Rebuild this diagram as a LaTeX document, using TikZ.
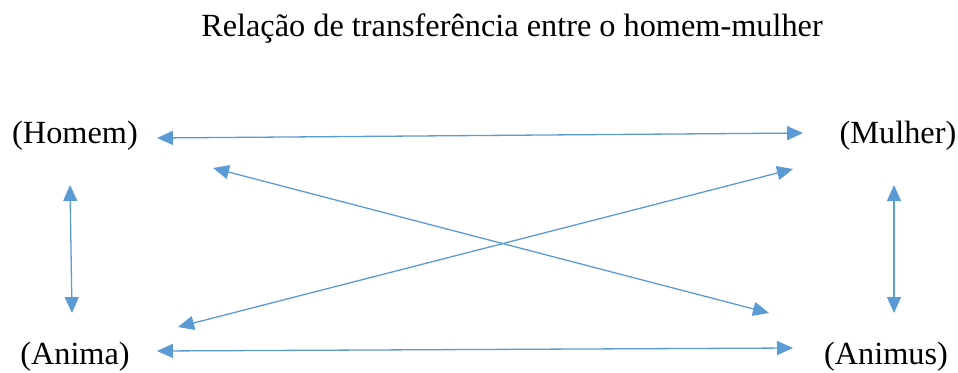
\documentclass[tikz,border=0pt]{standalone}
\usepackage{fontspec}
\setmainfont{Liberation Serif}
\usetikzlibrary{arrows.meta}
\definecolor{linkblue}{HTML}{5B9BD5}
\tikzset{
  label/.style={inner sep=0pt, anchor=base, font=\fontsize{32.3}{38}\selectfont},
  link/.style={draw=linkblue, line width=1.3pt,
    {Triangle[length=16pt,width=14pt]}-{Triangle[length=16pt,width=14pt]}}
}

\begin{document}
\begin{tikzpicture}[x=1pt, y=-1pt]
\useasboundingbox (0,0) rectangle (958,372);
\node[label] (title) at (512,36) {Relação de transferência entre o homem-mulher};
\node[label] (homem) at (75,143) {(Homem)};
\node[label] (mulher) at (898,143) {(Mulher)};
\node[label] (anima) at (75,364) {(Anima)};
\node[label] (animus) at (886,364) {(Animus)};
\draw[link] ([shift={(82,-5)}]homem.base) -- ([shift={(-95,-10)}]mulher.base);
\draw[link] ([shift={(138,25)}]homem.base) -- ([shift={(-117,-51)}]animus.base);
\draw[link] ([shift={(103,-37)}]anima.base) -- ([shift={(-105,26)}]mulher.base);
\draw[link] ([shift={(82,-13)}]anima.base) -- ([shift={(-93,-16)}]animus.base);
\draw[link] ([shift={(-5,42)}]homem.base) -- ([shift={(-3,-51)}]anima.base);
\draw[link] ([shift={(-4,42)}]mulher.base) -- ([shift={(8,-51)}]animus.base);
\end{tikzpicture}
\end{document}
